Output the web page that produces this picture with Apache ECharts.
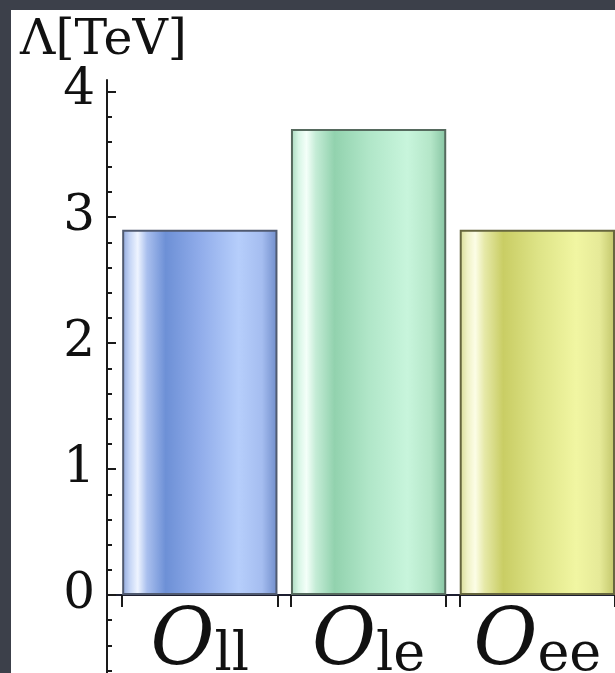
<!DOCTYPE html>
<html>
<head>
<meta charset="utf-8">
<script src="https://cdn.jsdelivr.net/npm/echarts@6/dist/echarts.min.js"></script>
<style>
  html, body { margin: 0; padding: 0; width: 615px; height: 673px; overflow: hidden; background: #3c404a; position: relative; }
  #chart { position: absolute; left: 11px; top: 10px; width: 604px; height: 663px; background: #ffffff; }
</style>
</head>
<body>
<div id="chart"></div>
<script>
// Operator subscripts (drawn as O_xx) and their bar positions
const operators = ['ll', 'le', 'ee'];
const positions = [1, 2, 3];
// Scale Λ in TeV for each operator
const lambdaTeV = [2.9, 3.7, 2.9];
// Y axis ticks
const yMajorTicks = [0, 1, 2, 3, 4];
const yMinorTicks = [-0.6, -0.4, -0.2, 0.2, 0.4, 0.6, 0.8, 1.2, 1.4, 1.6, 1.8,
                     2.2, 2.4, 2.6, 2.8, 3.2, 3.4, 3.6, 3.8];

const barHalfWidth = 0.46;
const barEdgeTicks = [];
positions.forEach(p => { barEdgeTicks.push(p - barHalfWidth, p + barHalfWidth); });

// Glossy horizontal gradients per bar
function gloss(stops) {
  return new echarts.graphic.LinearGradient(0, 0, 1, 0,
    stops.map(s => ({ offset: s[0], color: s[1] })));
}
const barStyles = [
  { fill: gloss([[0, '#8ea6dc'], [0.05, '#c6d6f6'], [0.1, '#eef4ff'], [0.16, '#a9bfee'],
                 [0.28, '#6d90d6'], [0.5, '#90acea'], [0.75, '#b6cefb'], [0.9, '#a5bdf0'], [1, '#6f8cca']]),
    border: '#505a70' },
  { fill: gloss([[0, '#a6d8bc'], [0.05, '#d8f6e6'], [0.1, '#f4fff9'], [0.16, '#c4ecd6'],
                 [0.28, '#92d2ae'], [0.5, '#b0e6c8'], [0.75, '#c8f5dc'], [0.9, '#b4e6c8'], [1, '#86c4a2']]),
    border: '#566a5e' },
  { fill: gloss([[0, '#d6da94'], [0.05, '#f0f2c6'], [0.1, '#fcfde6'], [0.16, '#e6e9a8'],
                 [0.28, '#c9cd64'], [0.5, '#dde386'], [0.75, '#f1f6a2'], [0.9, '#e6ea98'], [1, '#c2c66a']]),
    border: '#66663e' }
];

const barData = positions.map((p, i) => ({
  value: [p, lambdaTeV[i]],
  itemStyle: { color: barStyles[i].fill, borderColor: barStyles[i].border, borderWidth: 2 }
}));

const chart = echarts.init(document.getElementById('chart'), null, { renderer: 'canvas' });
const serif = 'DejaVu Serif';
const yTop = 4.09, yBottom = -0.62;
const axisColor = '#1a1a1a';
const tickStyle = { color: axisColor, width: 2 };

chart.setOption({
  animation: false,
  backgroundColor: '#ffffff',
  title: {
    text: 'Λ[TeV]', left: 4, top: 2,
    textStyle: { fontFamily: serif, fontWeight: 'normal', fontSize: 49, color: '#111' }
  },
  // upper grid: positive values with the bars; lower grid: the axis below zero
  grid: [
    { left: 96, right: 0, top: 70, bottom: 78, containLabel: false, outerBoundsMode: 'none' },
    { left: 96, right: 0, top: 585, bottom: 0, containLabel: false, outerBoundsMode: 'none' }
  ],
  xAxis: [{
    gridIndex: 0, type: 'value', min: 0.45, max: 3.46, position: 'bottom',
    splitLine: { show: false },
    axisLine: { show: true, onZero: false, lineStyle: { color: '#1c1e30', width: 2 } },
    axisTick: { show: true, customValues: barEdgeTicks, length: 12, lineStyle: tickStyle },
    axisLabel: {
      show: true, customValues: positions, margin: 10,
      formatter: v => '{o|O}{s|' + operators[positions.indexOf(Math.round(v))] + '}',
      rich: {
        o: { fontFamily: serif, fontStyle: 'italic', fontSize: 78, lineHeight: 78, color: '#111', verticalAlign: 'bottom' },
        s: { fontFamily: serif, fontSize: 54, lineHeight: 44, color: '#111', verticalAlign: 'bottom' }
      }
    }
  }, {
    gridIndex: 1, type: 'value', min: 0.45, max: 3.46, show: false
  }],
  yAxis: [{
    gridIndex: 0, type: 'value', min: 0, max: yTop, position: 'left',
    splitLine: { show: false },
    axisLine: { show: true, onZero: false, lineStyle: { color: axisColor, width: 2 } },
    axisTick: { show: true, inside: true, customValues: yMajorTicks, length: 9, lineStyle: tickStyle },
    axisLabel: { show: true, customValues: yMajorTicks, margin: 12, fontFamily: serif, fontSize: 50, color: '#111' }
  }, {
    gridIndex: 0, type: 'value', min: 0, max: yTop, position: 'left',
    splitLine: { show: false },
    axisLine: { show: false },
    axisTick: { show: true, inside: true, customValues: yMinorTicks.filter(t => t > 0), length: 5, lineStyle: tickStyle },
    axisLabel: { show: false }
  }, {
    gridIndex: 1, type: 'value', min: yBottom, max: 0, position: 'left',
    splitLine: { show: false },
    axisLine: { show: true, onZero: false, lineStyle: { color: axisColor, width: 2 } },
    axisTick: { show: true, inside: true, customValues: yMinorTicks.filter(t => t < 0), length: 5, lineStyle: tickStyle },
    axisLabel: { show: false }
  }],
  series: [{
    type: 'bar',
    xAxisIndex: 0, yAxisIndex: 0,
    barWidth: '92%',
    data: barData
  }]
});
</script>
</body>
</html>
